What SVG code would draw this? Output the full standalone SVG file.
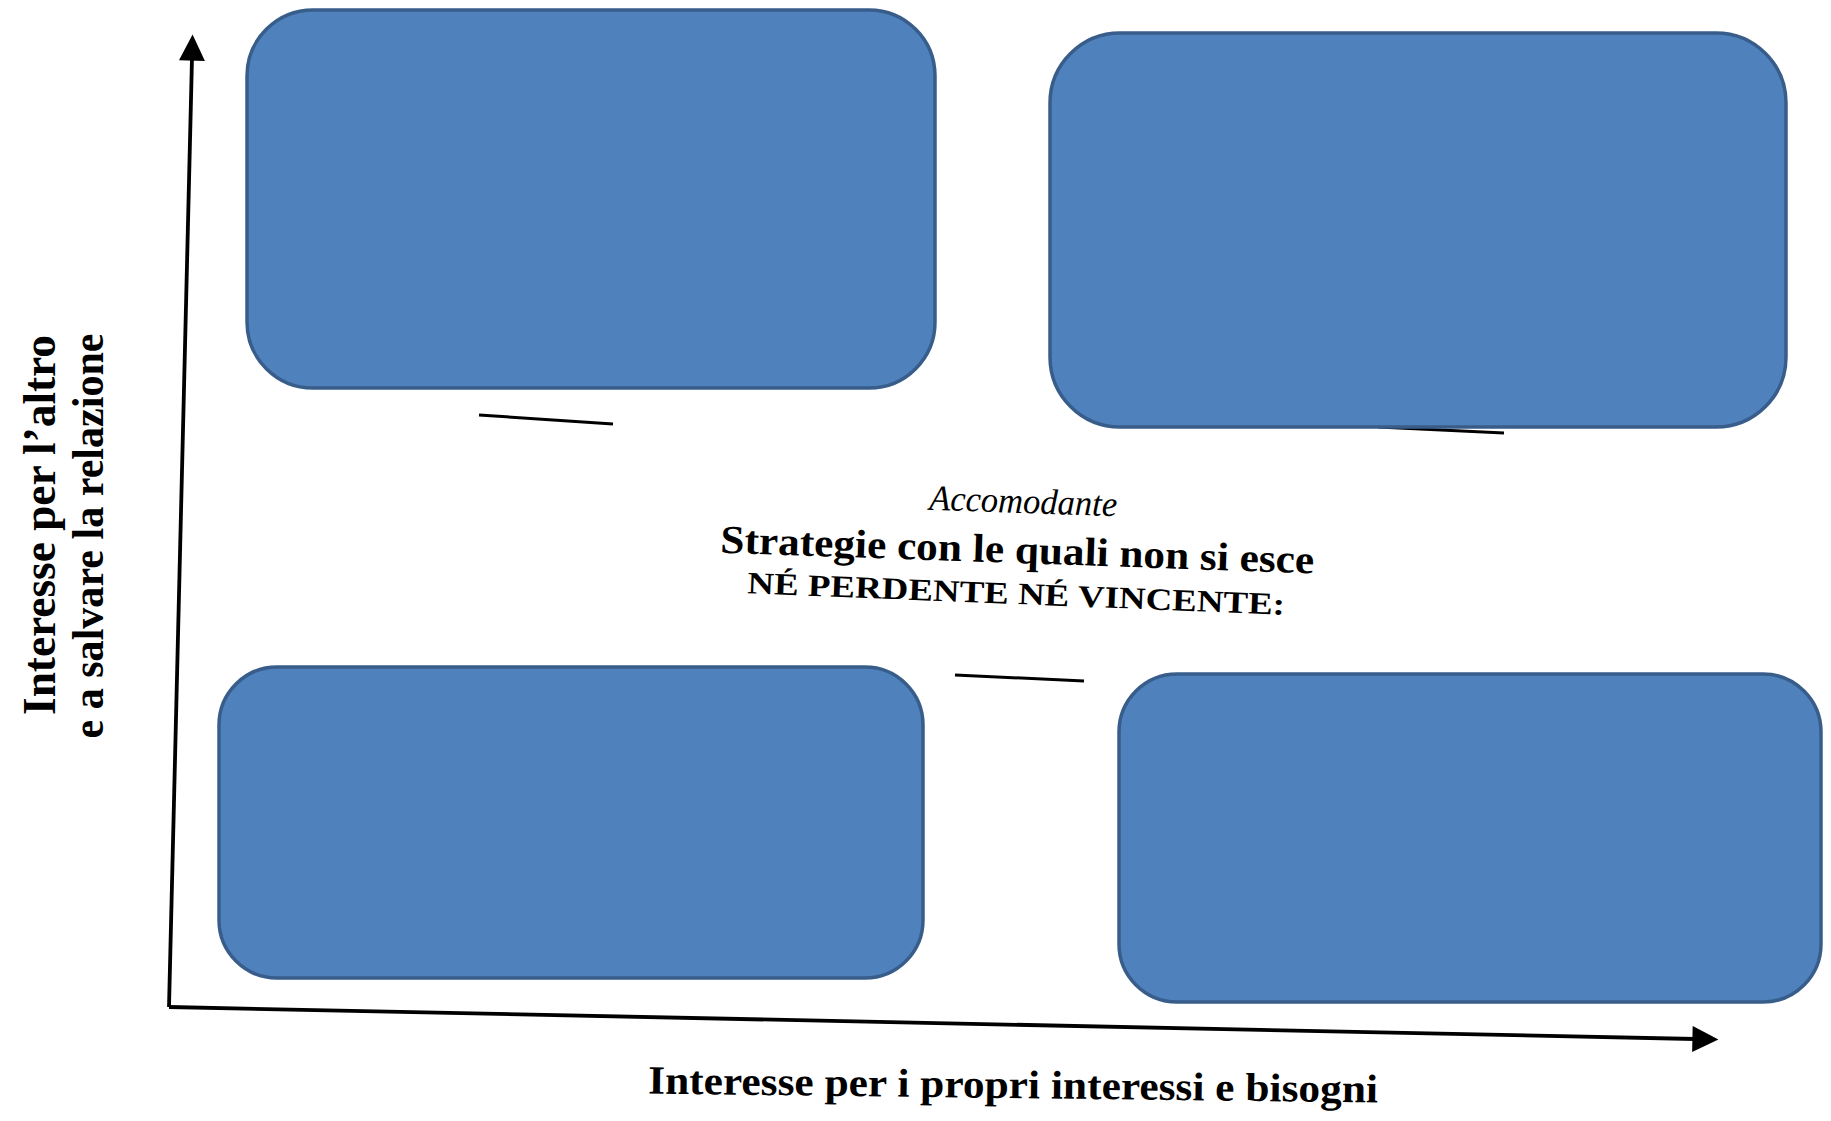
<svg xmlns="http://www.w3.org/2000/svg" width="1831" height="1121" viewBox="0 0 1831 1121">
<style>
.box{fill:#4F81BD;stroke:#385D8A;stroke-width:3.5}
.axis{stroke:#000;stroke-width:3.8;fill:none}
.dash{stroke:#000;stroke-width:3;fill:none}
.t{font-family:"Liberation Serif","Times New Roman",serif;fill:#000}
.b{font-weight:bold}
</style>
<defs>
<marker id="arr" viewBox="0 0 10 10" refX="1" refY="5" markerWidth="30" markerHeight="26" markerUnits="userSpaceOnUse" orient="auto">
<path d="M0,0 L10,5 L0,10 z" fill="#000"/>
</marker>
</defs>
<rect width="1831" height="1121" fill="#fff"/>
<g id="connectors">
<path class="axis" d="M169,1007 L192,58" marker-end="url(#arr)"/>
<path class="axis" d="M169,1007 L1695,1039" marker-end="url(#arr)"/>
<line class="dash" x1="479" y1="415" x2="613" y2="424"/>
<line class="dash" x1="1378" y1="427" x2="1504" y2="433"/>
<line class="dash" x1="955" y1="675" x2="1084" y2="681"/>
</g>
<g id="node-top-left"><rect class="box" x="247" y="10" width="688" height="378" rx="66" ry="66"/></g>
<g id="node-top-right"><rect class="box" x="1050" y="33" width="736" height="394" rx="70" ry="70"/></g>
<g id="node-bottom-left"><rect class="box" x="219" y="667" width="704" height="311" rx="58" ry="58"/></g>
<g id="node-bottom-right"><rect class="box" x="1119" y="674" width="702" height="328" rx="58" ry="58"/></g>
<g id="center-text">
<text class="t" font-style="italic" font-size="36" transform="rotate(2 1022 508)" x="929" y="513" textLength="188" lengthAdjust="spacingAndGlyphs">Accomodante</text>
<text class="t b" font-size="40" transform="rotate(2 1017 560)" x="720" y="563" textLength="594" lengthAdjust="spacingAndGlyphs">Strategie con le quali non si esce</text>
<text class="t b" font-size="31" transform="rotate(2.3 1016 600)" x="747" y="604" textLength="538" lengthAdjust="spacingAndGlyphs">NÉ PERDENTE NÉ VINCENTE:</text>
</g>
<g id="x-label">
<text class="t b" font-size="40" transform="rotate(0.7 1013 1095)" x="648" y="1098" textLength="730" lengthAdjust="spacingAndGlyphs">Interesse per i propri interessi e bisogni</text>
</g>
<g id="y-label">
<text class="t b" font-size="46" transform="rotate(-90 55 525)" x="55" y="525" text-anchor="middle" textLength="380" lengthAdjust="spacingAndGlyphs">Interesse per l’altro</text>
<text class="t b" font-size="44" transform="rotate(-90 103 536)" x="103" y="536" text-anchor="middle" textLength="405" lengthAdjust="spacingAndGlyphs">e a salvare la relazione</text>
</g>
</svg>
